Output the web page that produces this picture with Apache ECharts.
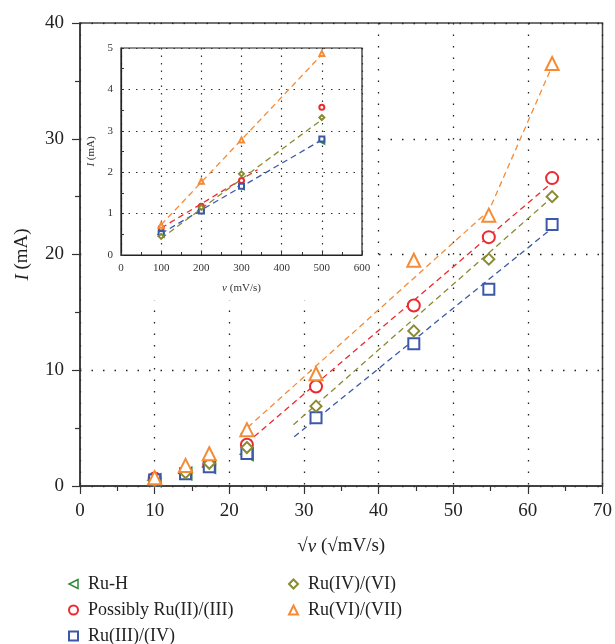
<!DOCTYPE html>
<html>
<head>
<meta charset="utf-8">
<script src="https://cdn.jsdelivr.net/npm/echarts@6/dist/echarts.min.js"></script>
<style>
html, body { margin: 0; padding: 0; background: #fff; }
#main { width: 615px; height: 644px; }
</style>
</head>
<body>
<div id="main"></div>
<script>
// sqrt of scan rate (main chart) and scan rate in mV/s (inset)
var sqrtRate = [10, 14.14, 17.32, 22.36, 31.62, 44.72, 54.77, 63.25];
var scanRate = [100, 200, 300, 500];

// peak currents, mA
var ruH = [0.5, 1.08, 1.65, 2.75];
var ru23 = [0.65, 1.18, 1.8, 3.57, 8.6, 15.6, 21.5, 26.6];
var ru34 = [0.52, 1.06, 1.66, 2.8, 5.9, 12.3, 17.0, 22.6];
var ru46 = [0.45, 1.15, 1.96, 3.32, 6.9, 13.4, 19.6, 25.0];
var ru67 = [0.72, 1.78, 2.78, 4.87, 9.7, 19.5, 23.4, 36.5];

// dashed fit lines, main chart
var fit23 = [[22.3, 3.7], [63.2, 26.2]];
var fit34 = [[28.7, 4.25], [63.5, 22.4]];
var fit46 = [[28.6, 5.3], [63.0, 24.8]];
var fit67 = [[21.5, 4.5], [54.8, 23.8], [63.2, 36.2]];

// dashed fit lines, inset
var insetFit23 = [[100, 0.65], [340, 2.06]];
var insetFit34 = [[100, 0.52], [500, 2.78]];
var insetFit46 = [[100, 0.4], [500, 3.27]];
var insetFit67 = [[100, 0.73], [500, 4.84]];

var names = ['Ru-H', 'Possibly Ru(II)/(III)', 'Ru(III)/(IV)', 'Ru(IV)/(VI)', 'Ru(VI)/(VII)'];
var colors = ['#2f8a3c', '#ec2a2e', '#3c58a8', '#8a8a32', '#f58b35'];
var symbols = ['emptyTriangle', 'emptyCircle', 'emptyRect', 'emptyDiamond', 'emptyTriangle'];
var rotates = [90, 0, 0, 0, 0];
var sizes = [12, 12, 11, 11, 13];
var values = [ruH, ru23, ru34, ru46, ru67];

var serif = 'Liberation Serif';
var ink = '#222';

function pairs(xs, ys) {
    return ys.map(function (y, i) { return [xs[i], y]; });
}

var series = [];
// main markers
values.forEach(function (vals, k) {
    series.push({
        name: names[k],
        type: 'scatter',
        xAxisIndex: 0,
        yAxisIndex: 0,
        symbol: symbols[k],
        symbolRotate: rotates[k],
        symbolSize: sizes[k],
        itemStyle: { color: colors[k], borderWidth: 1.4, opacity: 1 },
        data: pairs(sqrtRate, vals),
        z: 3
    });
});
// inset markers
values.forEach(function (vals, k) {
    series.push({
        name: names[k],
        type: 'scatter',
        xAxisIndex: 1,
        yAxisIndex: 1,
        symbol: symbols[k],
        symbolRotate: rotates[k],
        symbolSize: 5,
        itemStyle: { color: colors[k], borderWidth: 1.5, opacity: 1 },
        data: pairs(scanRate, vals.slice(0, 4)),
        z: 6
    });
});

function fitLine(data, color, axis) {
    return {
        name: 'fit',
        type: 'line',
        xAxisIndex: axis,
        yAxisIndex: axis,
        symbol: 'none',
        silent: true,
        lineStyle: { color: color, width: 1.3, type: [6, 4] },
        data: data,
        z: axis == 0 ? 2 : 5
    };
}
series.push(fitLine(fit23, colors[1], 0));
series.push(fitLine(fit34, colors[2], 0));
series.push(fitLine(fit46, colors[3], 0));
series.push(fitLine(fit67, colors[4], 0));
series.push(fitLine(insetFit23, colors[1], 1));
series.push(fitLine(insetFit34, colors[2], 1));
series.push(fitLine(insetFit46, colors[3], 1));
series.push(fitLine(insetFit67, colors[4], 1));

// legend: Ru-H gets a left-pointing hollow triangle
var legendItems = names.map(function (n, k) {
    if (k == 0) {
        return {
            name: n,
            icon: 'path://M10,0L0,5L10,10Z',
            itemStyle: { color: '#fff', borderColor: colors[0], borderWidth: 1.5 }
        };
    }
    return { name: n, icon: symbols[k] };
});

var mainTick = { length: 8, lineStyle: { color: '#333', width: 1.2 } };
var mainMinor = { show: true, splitNumber: 2, length: 5, lineStyle: { color: '#333', width: 1.2 } };
var mainSplit = { show: true, lineStyle: { color: '#222', width: 1.3, type: [1.5, 10] } };
var mainLabel = { margin: 16, fontSize: 19, fontFamily: serif, color: ink };
var mainName = { fontSize: 19, fontFamily: serif, color: ink, rich: { i: { fontSize: 19, fontFamily: serif, fontStyle: 'italic', color: ink } } };

var insetTick = { inside: true, length: 3, lineStyle: { color: '#333', width: 1 } };
var insetMinor = { show: true, splitNumber: 2, length: 3, lineStyle: { color: '#333', width: 1 } };
var insetSplit = { show: true, lineStyle: { color: '#333', width: 1.2, type: [1.5, 6] } };
var insetLabel = { margin: 8, fontSize: 11, fontFamily: serif, color: '#333' };
var insetName = { fontSize: 11, fontFamily: serif, color: '#333', rich: { i: { fontSize: 11, fontFamily: serif, fontStyle: 'italic', color: '#333' } } };

var legendText = { fontFamily: serif, fontSize: 18, lineHeight: 18, color: ink, padding: [0, 0, 0, 5] };

var option = {
    backgroundColor: '#fff',
    animation: false,
    grid: [
        { left: 80, right: 12, top: 23, bottom: 158, show: true, borderColor: '#444', borderWidth: 1.5 },
        { left: 121, right: 253, top: 48, bottom: 389, show: true, borderColor: '#222', borderWidth: 1.2, z: 4 }
    ],
    graphic: [
        { type: 'rect', shape: { x: 81.5, y: 24.5, width: 289, height: 276 }, style: { fill: '#fff' }, z: 1 }
    ],
    legend: [
        {
            data: legendItems.slice(0, 3), orient: 'vertical', left: 68, top: 575, height: 90, padding: 0,
            itemWidth: 9, itemHeight: 9, itemGap: 8, textStyle: legendText
        },
        {
            data: legendItems.slice(3), orient: 'vertical', left: 288, top: 575, height: 90, padding: 0,
            itemWidth: 9, itemHeight: 9, itemGap: 8, textStyle: legendText
        }
    ],
    xAxis: [
        {
            gridIndex: 0, type: 'value', min: 0, max: 70, interval: 10,
            axisLine: { lineStyle: { color: '#333', width: 1.5 } },
            axisTick: mainTick, minorTick: mainMinor, splitLine: mainSplit, axisLabel: mainLabel,
            name: '√{i|ν} (√mV/s)', nameLocation: 'middle', nameGap: 51, nameTextStyle: mainName
        },
        {
            gridIndex: 1, type: 'value', min: 0, max: 600, interval: 100, z: 5,
            axisLine: { lineStyle: { color: '#222', width: 1.2 } },
            axisTick: insetTick, minorTick: insetMinor, splitLine: insetSplit, axisLabel: insetLabel,
            name: '{i|ν} (mV/s)', nameLocation: 'middle', nameGap: 28, nameTextStyle: insetName
        }
    ],
    yAxis: [
        {
            gridIndex: 0, type: 'value', min: 0, max: 40, interval: 10,
            axisLine: { lineStyle: { color: '#333', width: 1.5 } },
            axisTick: mainTick, minorTick: mainMinor, splitLine: mainSplit, axisLabel: mainLabel,
            name: '{i|I} (mA)', nameLocation: 'middle', nameGap: 48, nameTextStyle: mainName
        },
        {
            gridIndex: 1, type: 'value', min: 0, max: 5, interval: 1, z: 5,
            axisLine: { lineStyle: { color: '#222', width: 1.2 } },
            axisTick: insetTick, minorTick: insetMinor, splitLine: insetSplit, axisLabel: insetLabel,
            name: '{i|I} (mA)', nameLocation: 'middle', nameGap: 24, nameTextStyle: insetName
        }
    ],
    series: series
};

var chart = echarts.init(document.getElementById('main'));
chart.setOption(option);
</script>
</body>
</html>
